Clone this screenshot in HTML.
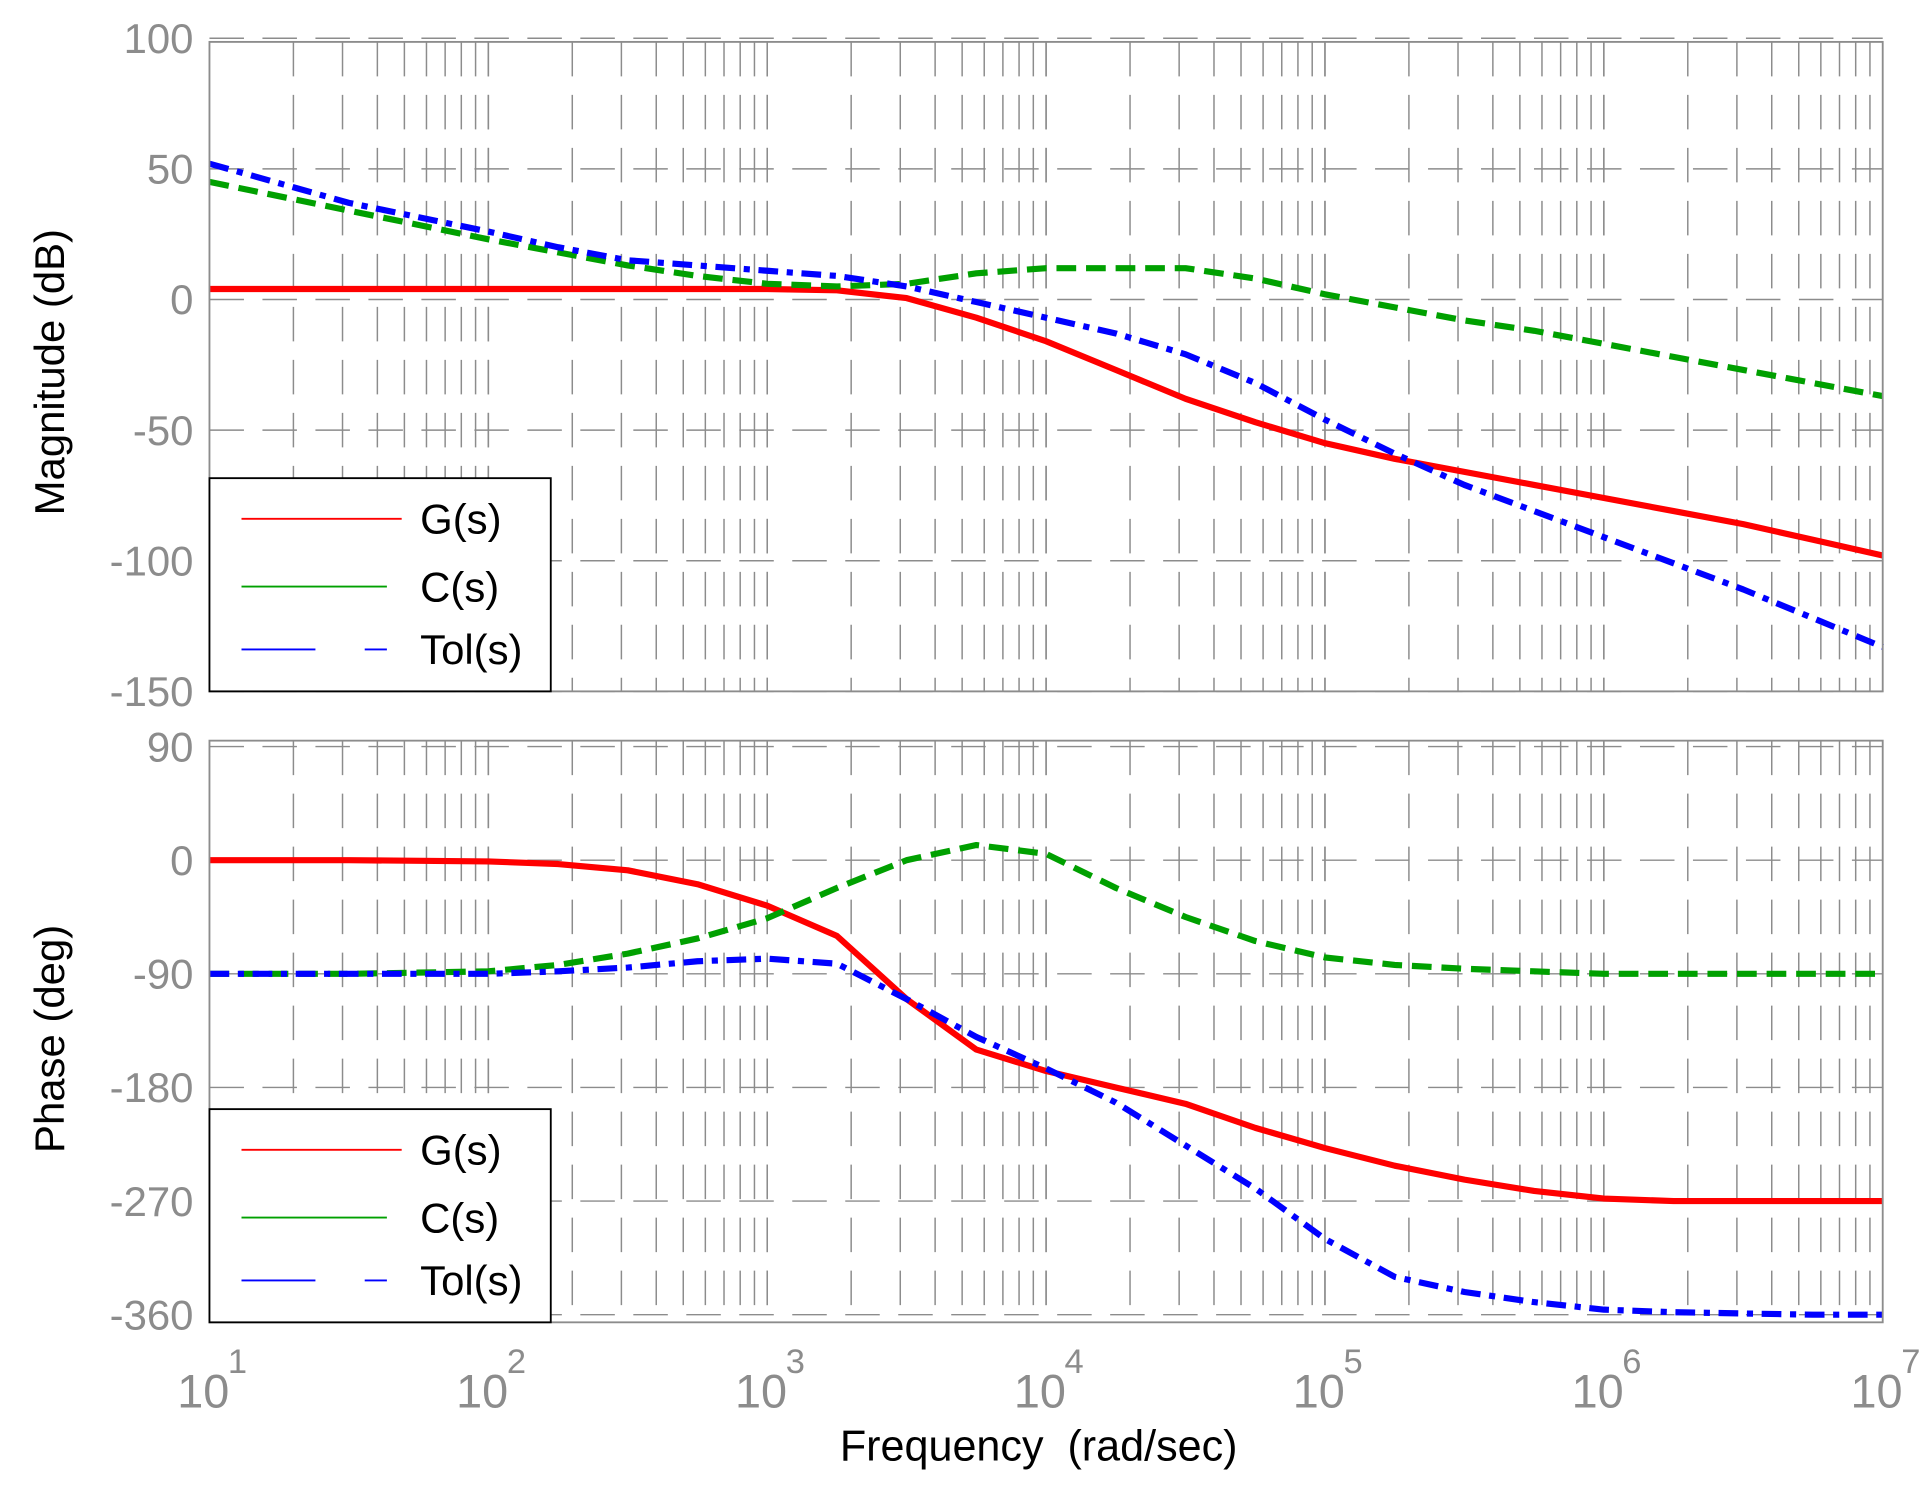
<!DOCTYPE html>
<html><head><meta charset="utf-8"><style>
html,body{margin:0;padding:0;background:#fff}
svg{display:block}
text{font-family:"Liberation Sans",Arial,sans-serif}
</style></head><body>
<svg id="chart" width="1932" height="1485" viewBox="0 0 1568 1205" preserveAspectRatio="none" xmlns="http://www.w3.org/2000/svg">
<g id="grid"></g>
<g id="series"></g>
<g id="axes"></g>
</svg>
<script>
const logF = [1,1.5,2,2.25,2.5,2.75,3,3.25,3.5,3.75,4,4.25,4.5,4.75,5,5.25,5.5,5.75,6,6.25,6.5,6.75,7];
const gMag = [4,4,4,4,4,4,4,3.5,0.5,-7,-16,-27,-38,-47,-55,-61,-66,-71,-76,-81,-86,-92,-98];
const cMag = [45,34,23,18,13,9,6,5,6,10,12,12,12,8,2,-3,-8,-12,-17,-22,-27,-32,-37];
const tolMag = [52,37,26,20,15,13,11,9,5,-1,-7,-13,-21,-32,-46,-59,-71,-81,-91,-101,-111,-122,-133];
const gPhase = [0,0,-1,-3,-8,-19,-36,-60,-110,-150,-167,-180,-193,-212,-228,-242,-253,-262,-268,-270,-270,-270,-270];
const cPhase = [-90,-90,-88,-83,-74,-62,-46,-22,0,12,5,-22,-45,-64,-77,-83,-86,-88,-90,-90,-90,-90,-90];
const tolPhase = [-90,-90,-90,-88,-85,-80,-78,-82,-110,-140,-165,-192,-226,-260,-300,-330,-342,-350,-356,-358,-359,-360,-360];
const magTicks = [100,50,0,-50,-100,-150];
const phaseTicks = [90,0,-90,-180,-270,-360];
const decades = [1,2,3,4,5,6,7];
const legendLabels = ['G(s)','C(s)','Tol(s)'];

const NS='http://www.w3.org/2000/svg';
const L=170,R=1528;
const xS=lf=>L+(lf-1)*(R-L)/6;
const magTop=34,magBot=561;
const yMag=v=>243-(v)*106/50;
const phTop=601,phBot=1073;
const yPh=v=>698-v*92.2/90;
function mk(tag,attrs,parent,txt){const e=document.createElementNS(NS,tag);for(const k in attrs)e.setAttribute(k,attrs[k]);if(txt!==undefined)e.textContent=txt;parent.appendChild(e);return e;}
const grid=document.getElementById('grid'),series=document.getElementById('series'),axes=document.getElementById('axes');

function panel(top,bot,ticks,yf,name){
  for(let d=1;d<7;d++){for(let m=1;m<=10;m++){const x=xS(d+Math.log10(m));if(m===1&&d===1)continue;if(m===10&&d===6)continue;
    const ln=mk('line',{x1:x,x2:x,y1:top,y2:bot,stroke:'#8c8c8c','stroke-width':1.2,'stroke-dasharray':'28 15'},grid);
    
    }}
  ticks.forEach(t=>{const y=yf(t);
    const ln=mk('line',{x1:L,x2:R,y1:y,y2:y,stroke:'#8c8c8c','stroke-width':1.2,'stroke-dasharray':'28 15'},grid);
    
    
    const tx=mk('text',{x:L-13,y:y+12,'text-anchor':'end','font-size':34,fill:'#8c8c8c'},axes,String(t));
    
    });
  const box=mk('rect',{x:L,y:top,width:R-L,height:bot-top,fill:'none',stroke:'#8c8c8c','stroke-width':1.5},axes);
  
  
}
panel(magTop,magBot,magTicks,yMag,'magnitude');
panel(phTop,phBot,phaseTicks,yPh,'phase');

const styles=[{c:'#ff0000',d:'none'},{c:'#00a000',d:'16 8'},{c:'#0000ff',d:'16 7 5 7'}];
function drawLine(vals,yf,st,name){
  const pts=logF.map((lf,i)=>xS(lf).toFixed(1)+','+yf(vals[i]).toFixed(1)).join(' ');
  const p=mk('polyline',{points:pts,fill:'none',stroke:st.c,'stroke-width':5,'stroke-dasharray':st.d,'stroke-linejoin':'round'},series);
  
  
}
drawLine(gMag,yMag,styles[0],'g-magnitude-line');
drawLine(cMag,yMag,styles[1],'c-magnitude-line');
drawLine(tolMag,yMag,styles[2],'tol-magnitude-line');
drawLine(gPhase,yPh,styles[0],'g-phase-line');
drawLine(cPhase,yPh,styles[1],'c-phase-line');
drawLine(tolPhase,yPh,styles[2],'tol-phase-line');

function legend(top,name){
  const g=mk('g',{},axes);
  
  
  mk('rect',{x:170,y:top,width:277,height:173,fill:'#fff',stroke:'#000','stroke-width':1.5},g);
  const ys=[33,88,139];
  legendLabels.forEach((lab,i)=>{
    const y=top+ys[i];
    const ln=mk('line',{x1:196,x2:i===0?326:314,y1:y,y2:y,stroke:styles[i].c,'stroke-width':1.5,'stroke-dasharray':i===2?'60 40 16 0':'none'},g);
    
    
    const t=mk('text',{x:341,y:y+12,'font-size':34,fill:'#000'},g,lab);
    
    
  });
}
legend(388,'magnitude-legend');
legend(900,'phase-legend');

decades.forEach(d=>{const x=xS(d);
  const t=mk('text',{x:x-5,y:1142,'text-anchor':'middle','font-size':38,fill:'#8c8c8c'},axes,'10');
  
  
  const s=mk('text',{x:x+15,y:1114,'font-size':28,fill:'#8c8c8c'},axes,String(d));
  
  
});
const xt=mk('text',{x:843,y:1185,'text-anchor':'middle','font-size':35,fill:'#000','style':'white-space:pre'},axes,'Frequency  (rad/sec)');


const y1=mk('text',{x:0,y:0,'text-anchor':'middle','font-size':34,fill:'#000',transform:'translate(52,302) rotate(-90)'},axes,'Magnitude (dB)');


const y2=mk('text',{x:0,y:0,'text-anchor':'middle','font-size':34,fill:'#000',transform:'translate(52,843) rotate(-90)'},axes,'Phase (deg)');


</script>
</body></html>
